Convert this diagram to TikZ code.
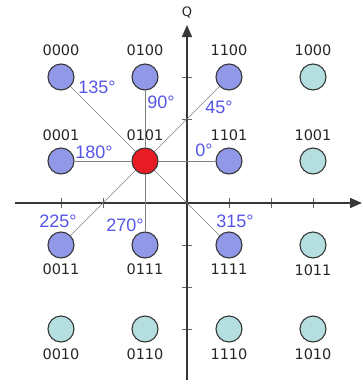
\documentclass[tikz,border=0pt]{standalone}
\usepackage{fontspec}
\usetikzlibrary{arrows.meta}
\newfontfamily\bitfont{DejaVu Sans}
\newfontfamily\angfont{Liberation Sans}
\definecolor{pblue}{RGB}{145,152,232}
\definecolor{pteal}{RGB}{180,222,224}
\definecolor{pred}{RGB}{232,28,36}
\definecolor{angc}{RGB}{85,85,230}
\definecolor{axc}{RGB}{55,55,55}

\begin{document}
\begin{tikzpicture}[
  dot/.style={circle, minimum size=26pt, inner sep=0pt, line width=1.1pt, draw=axc},
  bits/.style={inner sep=0pt, font=\bitfont\fontsize{14.5pt}{17pt}\selectfont, text=black!85},
  ang/.style={inner sep=0pt, font=\angfont\fontsize{18pt}{21pt}\selectfont, text=angc},
  spoke/.style={line width=0.7pt, color=gray},
  axis/.style={line width=1.4pt, color=axc, -{Triangle[length=12pt,width=10pt]}},
  tickmark/.style={line width=0.7pt, color=gray!80!black}]
\useasboundingbox (0pt, 0pt) rectangle (363pt, -383pt);
% axes
\coordinate (xl) at (15pt, -203pt);
\coordinate (xr) at (362pt, -203pt);
\coordinate (yb) at (187pt, -380pt);
\coordinate (yt) at (187pt, -25pt);
\foreach \x in {61,103,145,229,271,313}
  \draw [tickmark] (\x pt, -198pt) -- (\x pt, -208pt);
\foreach \y in {77,119,245,287,329}
  \draw [tickmark] (182pt, -\y pt) -- (192pt, -\y pt);
\draw [axis] (xl) to (xr);
\draw [axis] (yb) to (yt);
\node (Q) [bits, font=\bitfont\fontsize{13pt}{15pt}\selectfont] at (187pt, -13pt) {Q};
% constellation
\node (0000) [dot, fill=pblue] at (61pt, -77pt) {};
\node (0100) [dot, fill=pblue] at (145pt, -77pt) {};
\node (1100) [dot, fill=pblue] at (229pt, -77pt) {};
\node (1000) [dot, fill=pteal] at (313pt, -77pt) {};
\node (0001) [dot, fill=pblue] at (61pt, -161pt) {};
\node (0101) [dot, fill=pred] at (145pt, -161pt) {};
\node (1101) [dot, fill=pblue] at (229pt, -161pt) {};
\node (1001) [dot, fill=pteal] at (313pt, -161pt) {};
\node (0011) [dot, fill=pblue] at (61pt, -245pt) {};
\node (0111) [dot, fill=pblue] at (145pt, -245pt) {};
\node (1111) [dot, fill=pblue] at (229pt, -245pt) {};
\node (1011) [dot, fill=pteal] at (313pt, -245pt) {};
\node (0010) [dot, fill=pteal] at (61pt, -329pt) {};
\node (0110) [dot, fill=pteal] at (145pt, -329pt) {};
\node (1110) [dot, fill=pteal] at (229pt, -329pt) {};
\node (1010) [dot, fill=pteal] at (313pt, -329pt) {};
\draw [spoke] (0101) to (0000);
\draw [spoke] (0101) to (0100);
\draw [spoke] (0101) to (1100);
\draw [spoke] (0101) to (0001);
\draw [spoke] (0101) to (1101);
\draw [spoke] (0101) to (0011);
\draw [spoke] (0101) to (0111);
\draw [spoke] (0101) to (1111);
% bit labels
\node (l0000) [bits] at (61pt, -50pt) {0000};
\node (l0100) [bits] at (145pt, -50pt) {0100};
\node (l1100) [bits] at (229pt, -50pt) {1100};
\node (l1000) [bits] at (313pt, -50pt) {1000};
\node (l0001) [bits] at (61pt, -135pt) {0001};
\node (l0101) [bits] at (145pt, -135pt) {0101};
\node (l1101) [bits] at (229pt, -135pt) {1101};
\node (l1001) [bits] at (313pt, -135pt) {1001};
\node (l0011) [bits] at (61pt, -269pt) {0011};
\node (l0111) [bits] at (145pt, -269pt) {0111};
\node (l1111) [bits] at (229pt, -269pt) {1111};
\node (l1011) [bits] at (313pt, -270pt) {1011};
\node (l0010) [bits] at (61pt, -354pt) {0010};
\node (l0110) [bits] at (145pt, -354pt) {0110};
\node (l1110) [bits] at (229pt, -354pt) {1110};
\node (l1010) [bits] at (313pt, -354pt) {1010};
% phase labels
\node (a135) [ang] at (97pt, -87pt) {135°};
\node (a90) [ang] at (161pt, -102pt) {90°};
\node (a45) [ang] at (219pt, -107pt) {45°};
\node (a180) [ang] at (94pt, -152pt) {180°};
\node (a0) [ang] at (204pt, -150pt) {0°};
\node (a225) [ang] at (58pt, -221pt) {225°};
\node (a270) [ang] at (125pt, -225pt) {270°};
\node (a315) [ang] at (235pt, -221pt) {315°};
\end{tikzpicture}
\end{document}
